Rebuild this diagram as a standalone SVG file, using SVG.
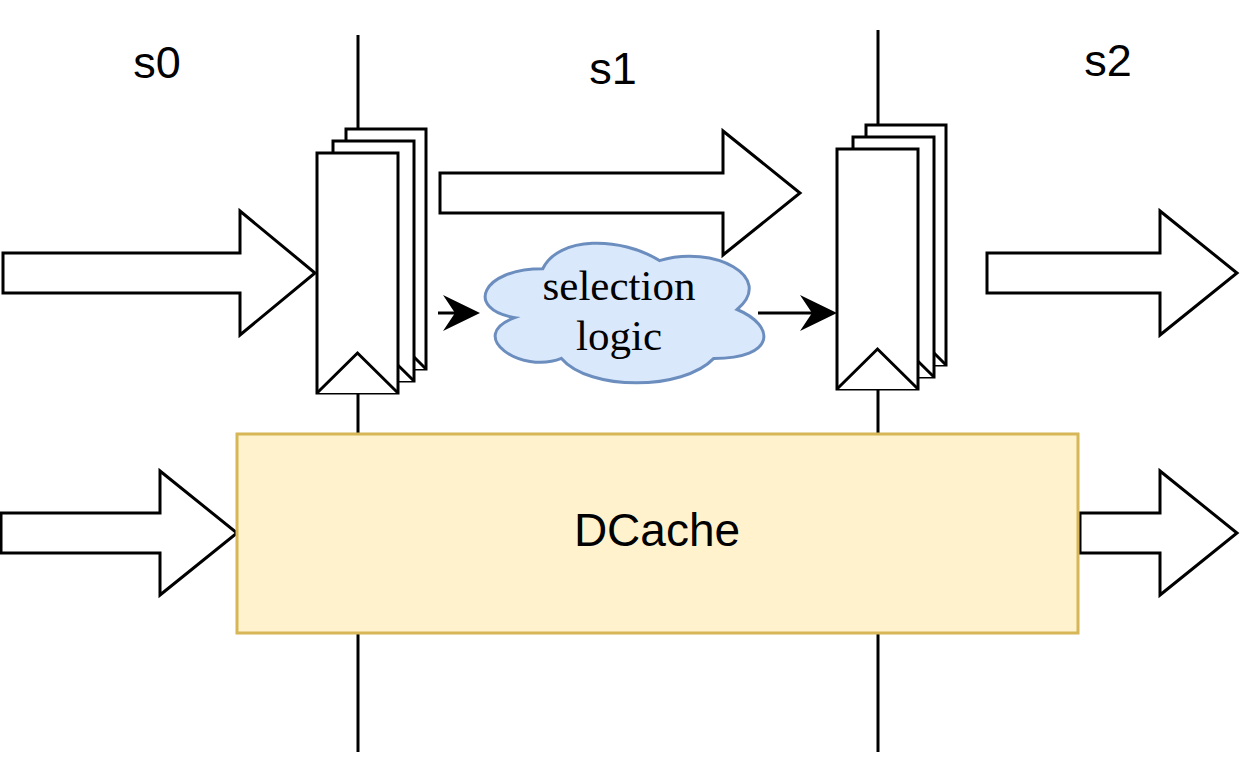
<svg xmlns="http://www.w3.org/2000/svg" width="1244" height="760" viewBox="0 0 1244 760">
  <style>
    .blk { fill: #ffffff; stroke: #000000; stroke-width: 3; stroke-linejoin: miter; }
    .reg { fill: #ffffff; stroke: #000000; stroke-width: 3; }
    .wire { stroke: #000000; stroke-width: 3; fill: none; }
    .lbl { font-family: "Liberation Sans", Arial, sans-serif; font-size: 45px; fill: #000000; text-anchor: middle; }
    .serif { font-family: "Liberation Serif", "Times New Roman", serif; font-size: 43px; fill: #000000; text-anchor: middle; }
  </style>
  <defs>
    <marker id="arrow" viewBox="0 0 37 36" refX="27" refY="18" markerWidth="37" markerHeight="36" markerUnits="userSpaceOnUse" orient="auto">
      <path d="M0,0 L37,18 L0,36 L12,18 Z" fill="#000000"/>
    </marker>
    <g id="regstack">
      <rect x="29" y="-24" width="80" height="240" class="reg"/>
      <path d="M29,216 L69,176 L109,216" class="reg"/>
      <rect x="16" y="-12" width="81" height="240" class="reg"/>
      <path d="M16,228 L56.5,188 L97,228" class="reg"/>
      <rect x="0" y="0" width="81" height="240" class="reg"/>
      <path d="M0,240 L40.5,200 L81,240" class="reg"/>
    </g>
  </defs>

  <rect width="1244" height="760" fill="#ffffff"/>

  <g id="stage-labels">
    <text class="lbl" x="157" y="78">s0</text>
    <text class="lbl" x="613" y="84">s1</text>
    <text class="lbl" x="1108" y="76">s2</text>
  </g>

  <g id="connectors">
    <line class="wire" x1="358" y1="35" x2="358" y2="153"/>
    <line class="wire" x1="358" y1="393" x2="358" y2="435"/>
    <line class="wire" x1="358" y1="633" x2="358" y2="752"/>
    <line class="wire" x1="878" y1="30" x2="878" y2="149"/>
    <line class="wire" x1="878" y1="389" x2="878" y2="435"/>
    <line class="wire" x1="878" y1="633" x2="878" y2="752"/>
    <line class="wire" x1="438" y1="313" x2="470" y2="313" marker-end="url(#arrow)"/>
    <line class="wire" x1="758" y1="313" x2="827" y2="313" marker-end="url(#arrow)"/>
  </g>

  <g id="register1">
    <use href="#regstack" x="317" y="153"/>
  </g>
  <g id="register2">
    <use href="#regstack" x="837" y="149"/>
  </g>

  <g id="block-arrows">
    <polygon id="arrow-in-top" class="blk" points="3,253 240,253 240,211 315,273 240,335 240,293 3,293"/>
    <polygon id="arrow-s1" class="blk" points="440,173 723,173 723,131 800,193 723,255 723,213 440,213"/>
    <polygon id="arrow-out-top" class="blk" points="987,253 1160,253 1160,211 1237,273 1160,335 1160,293 987,293"/>
    <polygon id="arrow-in-bottom" class="blk" points="1,513 160,513 160,471 237,533 160,595 160,553 1,553"/>
    <polygon id="arrow-out-bottom" class="blk" points="1080,513 1160,513 1160,471 1237,533 1160,595 1160,553 1080,553"/>
  </g>

  <g id="selection-logic">
    <path d="M542.75,268.75 C480.55,268.75 465,309.5 514.76,317.65 C465,335.58 520.98,374.7 561.41,358.4 C589.4,391 682.7,391 713.8,358.4 C776,358.4 776,325.8 737.1,309.5 C776,276.9 713.8,244.3 659.4,260.6 C620.5,236.15 558.3,236.15 542.75,268.75 Z" fill="#dae8fc" stroke="#6c8ebf" stroke-width="3"/>
    <text class="serif" x="619" y="300">selection</text>
    <text class="serif" x="619" y="350">logic</text>
  </g>

  <g id="dcache">
    <rect x="237" y="434" width="841" height="199" fill="#fff2cc" stroke="#d6b656" stroke-width="3"/>
    <text class="lbl" x="657" y="546" style="font-size:46px">DCache</text>
  </g>
</svg>
